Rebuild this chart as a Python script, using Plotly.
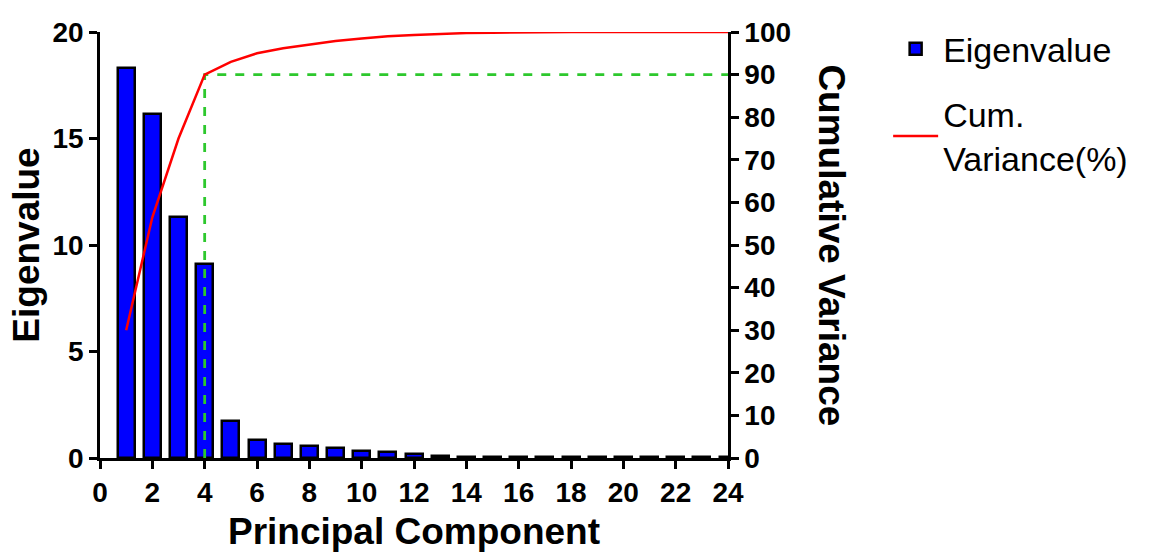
import plotly.graph_objects as go

# Principal components 1..24
components = list(range(1, 25))

# Eigenvalue of each component
eigenvalues = [18.3, 16.15, 11.3, 9.1, 1.72, 0.86, 0.68, 0.56, 0.47, 0.31, 0.27, 0.19,
               0.08, 0.07, 0.06, 0.06, 0.05, 0.05, 0.05, 0.04, 0.04, 0.04, 0.03, 0.03]

# Cumulative explained variance (%)
cum_variance = [30.0, 56.5, 75.0, 90.0, 93.0, 95.0, 96.2, 97.1, 97.9, 98.5, 99.0, 99.3,
                99.55, 99.75, 99.85, 99.95, 100.0, 100.0, 100.0, 100.0, 100.0, 100.0, 100.0, 100.0]

# 90% threshold guide: reached at component 4
threshold_pc = 4
threshold_pct = 90

FONT = "Liberation Sans, Arial, sans-serif"

fig = go.Figure()

fig.add_trace(go.Bar(
    x=components, y=eigenvalues, width=0.65, name="Eigenvalue", legendgroup="eig",
    marker=dict(color="#0000FF", line=dict(color="black", width=2.5)),
    yaxis="y",
))

fig.add_trace(go.Scatter(
    x=[threshold_pc, threshold_pc, components[-1]],
    y=[0, threshold_pct, threshold_pct],
    mode="lines", line=dict(color="#2DC82D", width=2.8, dash="dash"),
    yaxis="y2", showlegend=False, hoverinfo="skip",
))

fig.add_trace(go.Scatter(
    x=components, y=cum_variance, mode="lines", name="Cum.<br>Variance(%)",
    legendgroup="cum", line=dict(color="#FF0000", width=2.5), yaxis="y2",
))

axis_common = dict(
    showgrid=False, zeroline=False, showline=True, linecolor="black", linewidth=2.5,
    ticks="outside", ticklen=8, tickwidth=2.5, tickcolor="black", automargin=False,
    tickfont=dict(family=FONT, size=28, color="black", weight="bold"),
)

fig.update_layout(
    width=1152, height=552,
    margin=dict(l=100, r=424, t=32, b=94),
    paper_bgcolor="white", plot_bgcolor="white",
    font=dict(family=FONT, color="black"),
    bargap=0,
    xaxis=dict(
        range=[0, 24], tickvals=list(range(0, 25, 2)), **axis_common,
        title=dict(text="Principal Component", standoff=17,
                   font=dict(family=FONT, size=37, color="black", weight="bold")),
    ),
    yaxis=dict(
        range=[0, 20], tickvals=[0, 5, 10, 15, 20], **axis_common,
        title=dict(text="Eigenvalue", standoff=2,
                   font=dict(family=FONT, size=37, color="black", weight="bold")),
    ),
    yaxis2=dict(
        range=[0, 100], tickvals=list(range(0, 101, 10)), overlaying="y", side="right",
        **axis_common,
    ),
    legend=dict(
        x=1.255, y=1.028, xanchor="left", yanchor="top",
        font=dict(family=FONT, size=34, color="black"),
        bgcolor="rgba(0,0,0,0)", traceorder="grouped", tracegroupgap=18, itemwidth=45,
    ),
    annotations=[dict(
        text="Cumulative Variance", textangle=90, showarrow=False,
        xref="paper", yref="paper", x=1.165, y=0.5, xanchor="center", yanchor="middle",
        font=dict(family=FONT, size=37, color="black", weight="bold"),
    )],
)

fig.write_html("out.html")
